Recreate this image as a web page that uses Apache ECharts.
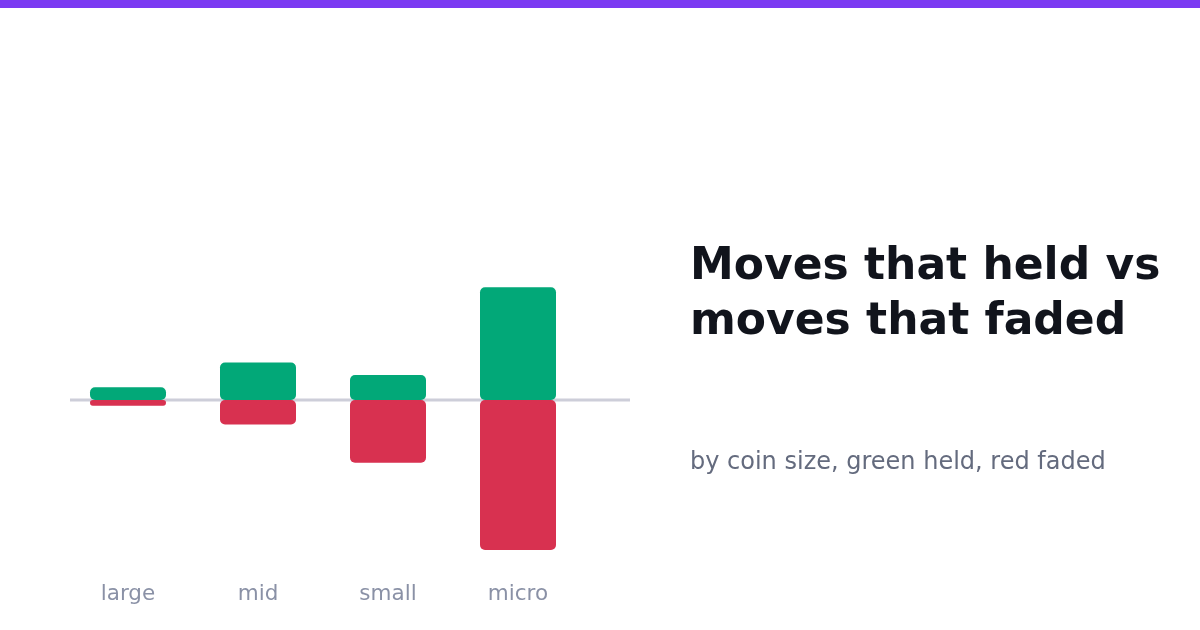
<!DOCTYPE html>
<html>
<head>
<meta charset="utf-8">
<style>
  html, body { margin: 0; padding: 0; background: #ffffff; }
  #chart { width: 1200px; height: 630px; }
</style>
<script src="https://cdn.jsdelivr.net/npm/echarts@6/dist/echarts.min.js"></script>
</head>
<body>
<div id="chart"></div>
<script>
  // coin size buckets
  var categories = ['large', 'mid', 'small', 'micro'];
  // moves that held (up) and faded (down)
  var heldValues = [1.27, 3.75, 2.5, 11.27];
  var fadedValues = [-0.57, -2.45, -6.27, -15];

  var chart = echarts.init(document.getElementById('chart'));

  var option = {
    backgroundColor: '#ffffff',
    animation: false,
    title: [
      {
        text: 'Moves that held vs\nmoves that faded',
        left: 690,
        top: 240,
        padding: 0,
        textStyle: {
          fontFamily: 'DejaVu Sans',
          fontSize: 44,
          fontWeight: 'bold',
          lineHeight: 55,
          color: '#11141c'
        }
      },
      {
        text: 'by coin size, green held, red faded',
        left: 690,
        top: 448,
        padding: 0,
        textStyle: {
          fontFamily: 'DejaVu Sans',
          fontSize: 24,
          fontWeight: 'normal',
          lineHeight: 30,
          color: '#646b7e'
        }
      }
    ],
    grid: { left: 63, width: 520, top: 250, height: 300 },
    xAxis: {
      type: 'category',
      data: categories,
      axisLine: { show: false, onZero: false },
      axisTick: { show: false },
      axisLabel: {
        margin: 33,
        fontFamily: 'DejaVu Sans',
        fontSize: 21.5,
        color: '#8a91a6'
      }
    },
    yAxis: {
      type: 'value',
      min: -15,
      max: 15,
      show: false,
      splitLine: { show: false }
    },
    series: [
      {
        name: 'held',
        type: 'bar',
        stack: 'moves',
        barWidth: 76,
        data: heldValues,
        itemStyle: { color: '#02a878', borderRadius: 5 },
        z: 3
      },
      {
        name: 'faded',
        type: 'bar',
        stack: 'moves',
        barWidth: 76,
        data: fadedValues,
        itemStyle: { color: '#d83150', borderRadius: 5 },
        z: 3
      }
    ]
  };

  chart.setOption(option);

  // top accent strip and zero baseline (a bit wider than the bars' grid)
  var zeroY = chart.convertToPixel({ gridIndex: 0 }, [0, 0])[1];
  chart.setOption({
    graphic: [
      {
        type: 'rect',
        left: 0,
        top: 0,
        shape: { width: 1200, height: 8 },
        style: { fill: '#7b3af2' }
      },
      {
        type: 'line',
        z: 1,
        shape: { x1: 70, y1: zeroY, x2: 630, y2: zeroY },
        style: { stroke: '#cdced9', lineWidth: 3 }
      }
    ]
  });
</script>
</body>
</html>
